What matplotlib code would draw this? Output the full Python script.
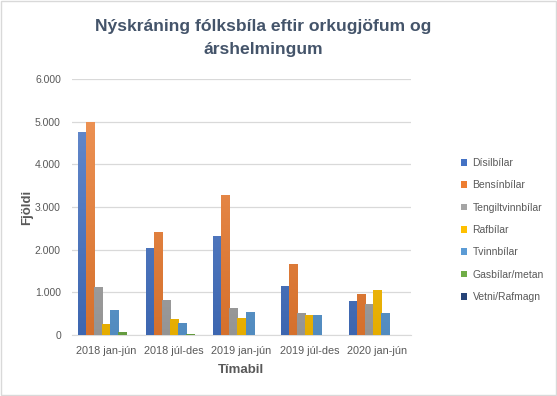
import matplotlib.pyplot as plt
import numpy as np
from matplotlib.ticker import FuncFormatter
from matplotlib.patches import Rectangle
from matplotlib.colors import to_rgb

plt.rcParams['font.family'] = ['Liberation Sans', 'DejaVu Sans']

periods = ['2018 jan-jún', '2018 júl-des', '2019 jan-jún', '2019 júl-des', '2020 jan-jún']
series = ['Dísilbílar', 'Bensínbílar', 'Tengiltvinnbílar', 'Rafbílar', 'Tvinnbílar', 'Gasbílar/metan', 'Vetni/Rafmagn']
disil = [4750, 2050, 2330, 1150, 800]
bensin = [4990, 2420, 3270, 1670, 965]
tengil = [1130, 820, 635, 520, 730]
raf = [260, 380, 400, 470, 1060]
tvinn = [590, 280, 540, 470, 520]
gas = [70, 25, 0, 0, 0]
vetni = [0, 0, 0, 0, 0]
colors = ['#4472C4', '#ED7D31', '#A5A5A5', '#FFC000', '#5B9BD5', '#70AD47', '#264478']

values = [disil, bensin, tengil, raf, tvinn, gas, vetni]
txt = '#595959'

fig = plt.figure(figsize=(5.57, 3.96), dpi=100)
ax = fig.add_axes([72/557, 1-335/396, (411-72)/557, (335-79)/396])

x = np.arange(len(periods))
w = 0.118
for i, (name, vals) in enumerate(zip(series, values)):
    bars = ax.bar(x + (i - 3) * w, vals, w, color=colors[i], label=name, zorder=3)
    # excel-like gradient: lighter at the top, darker at the bottom
    c = np.array(to_rgb(colors[i]))
    top = c + (1 - c) * 0.2
    bot = c * 0.9
    grad = np.linspace(bot, top, 64)[:, None, :]
    for b in bars:
        h = b.get_height()
        if h <= 0:
            continue
        x0 = b.get_x()
        im = ax.imshow(grad, extent=(x0, x0 + b.get_width(), 0, 6000), origin='lower',
                       aspect='auto', zorder=3.5, interpolation='bilinear')
        im.set_clip_path(b)

ax.set_xlim(-0.5, len(periods) - 0.5)
ax.set_ylim(0, 6000)
ax.set_yticks(range(0, 6001, 1000))
ax.yaxis.set_major_formatter(FuncFormatter(lambda v, p: f'{int(v):,}'.replace(',', '.')))
ax.set_xticks(x)
ax.set_xticklabels(periods)
ax.grid(axis='y', color='#D9D9D9', lw=0.9, zorder=0)
for s in ['top', 'right', 'left']:
    ax.spines[s].set_visible(False)
ax.spines['bottom'].set_color('#D9D9D9')
ax.tick_params(axis='both', length=0, colors=txt)
ax.tick_params(axis='x', labelsize=7.8, pad=8)
ax.tick_params(axis='y', labelsize=7.5, pad=8)

ax.set_xlabel('Tímabil', fontsize=9.5, fontweight='bold', color=txt, labelpad=6)
ax.set_ylabel('Fjöldi', fontsize=9.5, fontweight='bold', color=txt, labelpad=1)

fig.text(263/557, 1-38/396, 'Nýskráning fólksbíla eftir orkugjöfum og\nárshelmingum',
         ha='center', va='center', fontsize=12.6, fontweight='bold', color='#44546A', linespacing=1.6)

leg = ax.legend(loc='center left', bbox_to_anchor=(1.12, 0.41), frameon=False,
                fontsize=7.5, labelcolor=txt, handlelength=0.6, handleheight=0.6,
                handletextpad=0.5, labelspacing=1.18)

fig.patches.append(Rectangle((0.002, 0.002), 0.996, 0.996, transform=fig.transFigure,
                             fill=False, edgecolor='#D9D9D9', lw=1))

fig.savefig('out.png', dpi=100)
